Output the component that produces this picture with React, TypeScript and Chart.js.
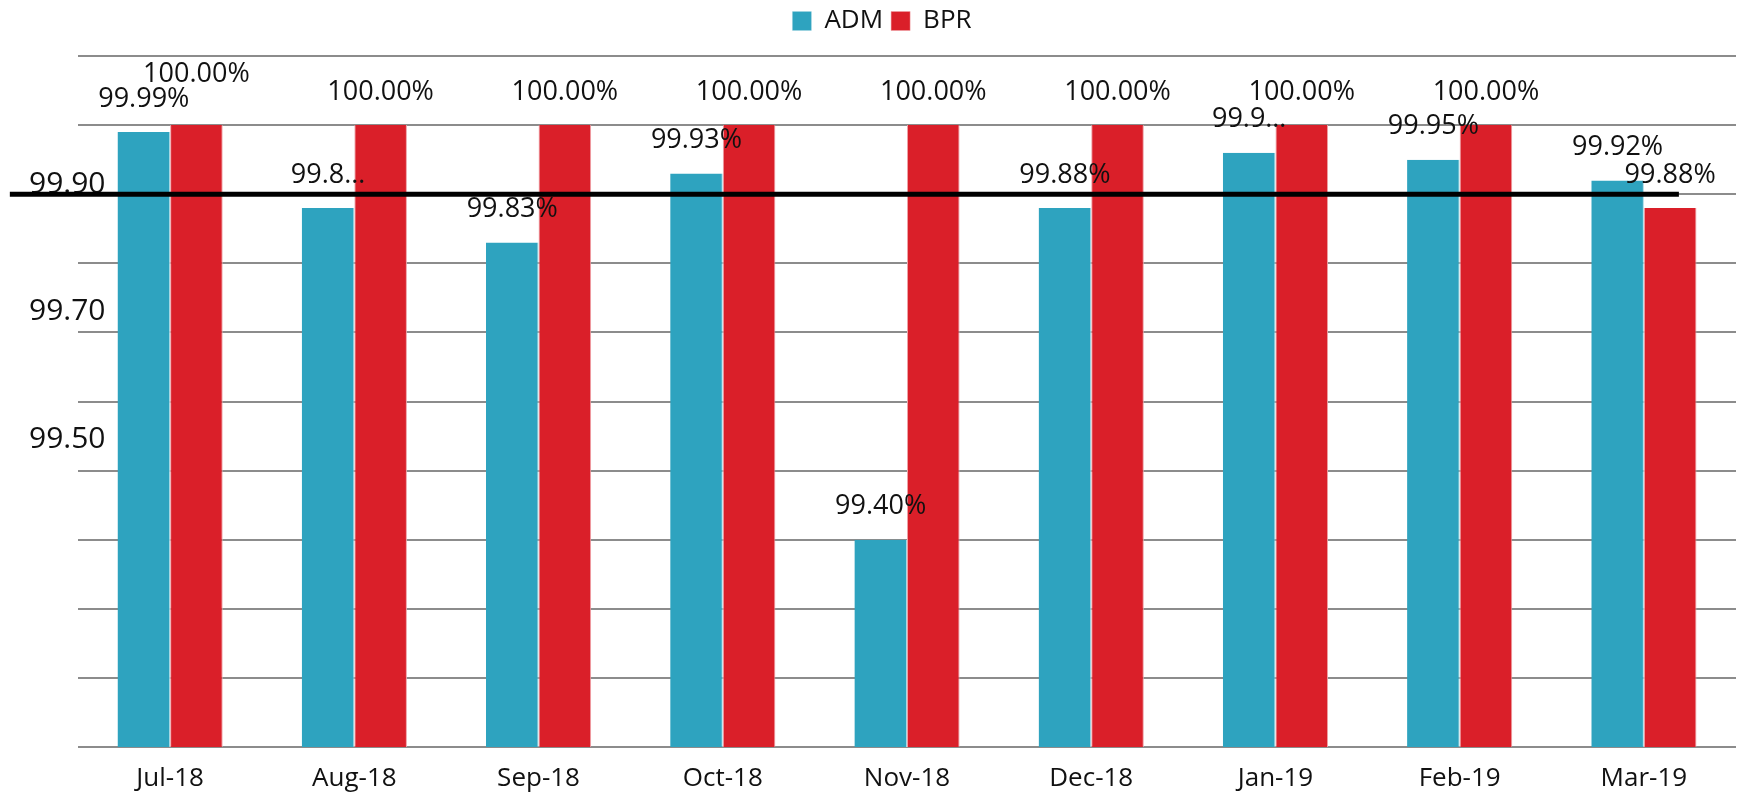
import React, { useEffect, useRef } from 'react';
import { Chart, registerables } from 'chart.js';

Chart.register(...registerables);

const categories = ['Jul-18', 'Aug-18', 'Sep-18', 'Oct-18', 'Nov-18', 'Dec-18', 'Jan-19', 'Feb-19', 'Mar-19'];
const admValues = [99.99, 99.88, 99.83, 99.93, 99.4, 99.88, 99.96, 99.95, 99.92];
const bprValues = [100.0, 100.0, 100.0, 100.0, 100.0, 100.0, 100.0, 100.0, 99.88];
const admLabels = ['99.99%', '99.8…', '99.83%', '99.93%', '99.40%', '99.88%', '99.9…', '99.95%', '99.92%'];
const bprLabels = ['100.00%', '100.00%', '100.00%', '100.00%', '100.00%', '100.00%', '100.00%', '100.00%', '99.88%'];
const targetValue = 99.9;
// start / end of the target line, in category-index units
const targetSpan = [-0.87, 8.19];
const yTickLabels = [99.9, 99.7, 99.5];

const FONT = '"Open Sans", "Noto Sans", sans-serif';
const TEAL = '#2ea3bf';
const RED = '#da1f29';

const targetLinePlugin = {
  id: 'targetLine',
  afterDatasetsDraw(chart: any) {
    const xs = chart.scales.x;
    const ys = chart.scales.y;
    const ctx = chart.ctx;
    const y0 = ys.getPixelForValue(targetValue);
    ctx.save();
    ctx.strokeStyle = '#000';
    ctx.lineWidth = 5;
    ctx.beginPath();
    ctx.moveTo(xs.getPixelForValue(targetSpan[0]), y0);
    ctx.lineTo(xs.getPixelForValue(targetSpan[1]), y0);
    ctx.stroke();
    ctx.restore();
  },
};

const barLabelsPlugin = {
  id: 'barLabels',
  afterDatasetsDraw(chart: any) {
    const ctx = chart.ctx;
    ctx.save();
    ctx.font = `27px ${FONT}`;
    ctx.fillStyle = '#111';
    ctx.textAlign = 'center';
    ctx.textBaseline = 'middle';
    const texts = [admLabels, bprLabels];
    const placed: { x0: number; x1: number; y0: number; y1: number }[] = [];
    const h = 24;
    for (let i = 0; i < categories.length; i++) {
      for (let d = 0; d < 2; d++) {
        const el = chart.getDatasetMeta(d).data[i];
        if (!el) continue;
        const text = texts[d][i];
        const w = ctx.measureText(text).width;
        const cx = el.x;
        let cy = el.y - 33;
        const hit = () =>
          placed.some(
            (b) => cx - w / 2 < b.x1 && cx + w / 2 > b.x0 && cy - h / 2 < b.y1 && cy + h / 2 > b.y0
          );
        let guard = 0;
        while (hit() && guard < 300) {
          cy -= 1;
          guard++;
        }
        placed.push({ x0: cx - w / 2, x1: cx + w / 2, y0: cy - h / 2, y1: cy + h / 2 });
        ctx.fillText(text, cx, cy);
      }
    }
    ctx.restore();
  },
};

const legendSpacer = {
  id: 'legendSpacer',
  beforeInit(chart: any) {
    if (!chart.legend) return;
    const originalFit = chart.legend.fit;
    chart.legend.fit = function fit() {
      originalFit.bind(chart.legend)();
      this.height += 12;
    };
  },
};

export default function App() {
  const ref = useRef<HTMLCanvasElement | null>(null);

  useEffect(() => {
    document.body.style.margin = '0';
    if (!ref.current) return;
    const chart = new Chart(ref.current, {
      type: 'bar',
      data: {
        labels: categories,
        datasets: [
          {
            label: 'ADM',
            data: admValues,
            backgroundColor: TEAL,
            borderColor: '#a9d8e4',
            borderWidth: { left: 0, right: 1, top: 0, bottom: 0 } as any,
            categoryPercentage: 0.571,
            barPercentage: 1,
          },
          {
            label: 'BPR',
            data: bprValues,
            backgroundColor: RED,
            borderColor: '#eea0a5',
            borderWidth: { left: 1, right: 1, top: 0, bottom: 0 } as any,
            categoryPercentage: 0.571,
            barPercentage: 1,
          },
        ],
      },
      options: {
        responsive: false,
        animation: false,
        layout: { padding: { left: 28, right: 5, top: 0, bottom: 0 } },
        plugins: {
          legend: {
            position: 'top',
            labels: {
              font: { family: FONT, size: 26 },
              color: '#111',
              boxWidth: 19,
              boxHeight: 19,
              padding: 8,
            },
          },
          tooltip: { enabled: false },
        },
        scales: {
          x: {
            type: 'category',
            offset: true,
            grid: { display: false, drawTicks: false },
            border: { display: false },
            ticks: { font: { family: FONT, size: 26 }, color: '#111', padding: 16 },
            afterFit: (scale: any) => {
              scale.height = 54;
            },
          },
          y: {
            type: 'linear',
            position: 'left',
            min: 99.1,
            max: 100.1,
            ticks: { display: false, stepSize: 0.1 },
            grid: { color: '#8c8c8c', lineWidth: 2, drawTicks: false },
            border: { display: false },
          },
          yLabels: {
            type: 'linear',
            position: 'left',
            min: 99.02,
            max: 100.1,
            grid: { display: false, drawTicks: false },
            border: { display: false },
            afterBuildTicks: (scale: any) => {
              scale.ticks = yTickLabels.map((v) => ({ value: v }));
            },
            afterFit: (scale: any) => {
              scale.width = 50;
            },
            ticks: {
              font: { family: FONT, size: 30 },
              color: '#111',
              mirror: true,
              padding: -49,
              callback: (v: any) => Number(v).toFixed(2),
            },
          },
        },
      },
      plugins: [targetLinePlugin, barLabelsPlugin, legendSpacer],
    } as any);
    return () => chart.destroy();
  }, []);

  return <canvas ref={ref} width={1741} height={801} style={{ display: 'block' }} />;
}
